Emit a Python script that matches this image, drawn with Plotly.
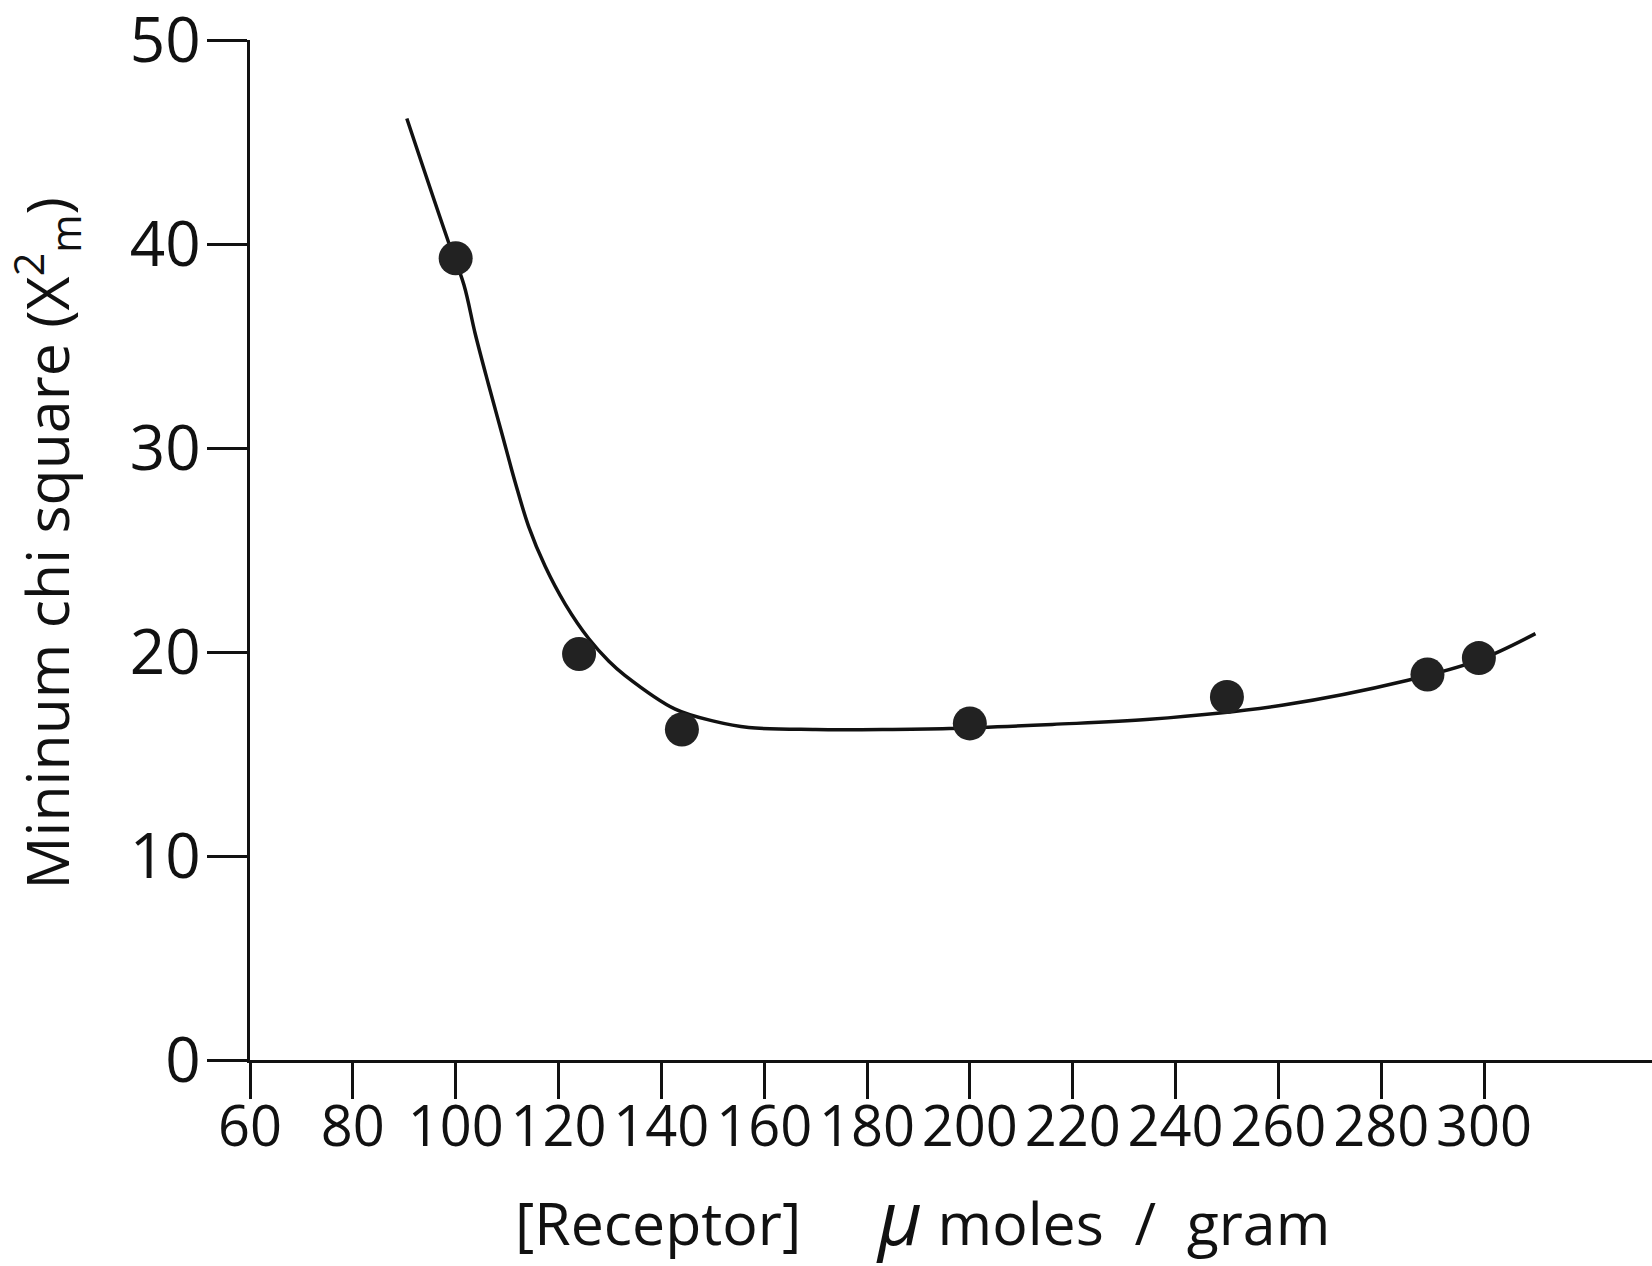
import plotly.graph_objects as go

# Measured data points
point_x = [100, 124, 144, 200, 250, 289, 299]
point_y = [39.3, 19.9, 16.2, 16.5, 17.8, 18.9, 19.7]

# Hand-drawn fitted curve
curve_x = [90.5, 98.6, 101.6, 103.8, 106.4, 109.0, 111.6, 114.2, 117.4, 121.3,
           125.9, 129.8, 132.9, 142.7, 150.4, 157.0, 170.0, 183.0, 196.0, 216.0,
           235.0, 261.0, 285.0, 299.0, 310.0]
curve_y = [46.15, 40.1, 38.0, 35.6, 33.1, 30.7, 28.3, 26.15, 24.2, 22.35,
           20.65, 19.55, 18.86, 17.2, 16.6, 16.3, 16.2, 16.2, 16.25, 16.45,
           16.7, 17.4, 18.6, 19.6, 20.9]

x_ticks = [60, 80, 100, 120, 140, 160, 180, 200, 220, 240, 260, 280, 300]
y_ticks = [0, 10, 20, 30, 40, 50]

FONT = "Open Sans"
INK = "#111111"

fig = go.Figure()
fig.add_trace(go.Scatter(
    x=curve_x, y=curve_y, mode="lines",
    line=dict(color=INK, width=3.5, shape="spline", smoothing=1.0),
    hoverinfo="skip", showlegend=False,
))
fig.add_trace(go.Scatter(
    x=point_x, y=point_y, mode="markers",
    marker=dict(size=34, color="#222222", line=dict(width=0)),
    showlegend=False,
))

fig.update_layout(
    width=1652, height=1266,
    margin=dict(l=250, r=0, t=40, b=206, pad=0, autoexpand=False),
    paper_bgcolor="white", plot_bgcolor="white",
    font=dict(family=FONT, color=INK),
    xaxis=dict(
        range=[60, 332.67], tickvals=x_ticks, ticktext=[str(v) for v in x_ticks],
        showgrid=False, zeroline=False, automargin=False,
        showline=True, linecolor=INK, linewidth=3,
        ticks="outside", ticklen=36, tickwidth=3, tickcolor=INK,
        tickfont=dict(family=FONT, size=56, color=INK),
        ticklabelstandoff=-20, ticklabeloverflow="allow",
    ),
    yaxis=dict(
        range=[0, 50], tickvals=y_ticks, ticktext=[str(v) for v in y_ticks],
        showgrid=False, zeroline=False, automargin=False,
        showline=True, linecolor=INK, linewidth=3,
        ticks="outside", ticklen=40, tickwidth=3, tickcolor=INK,
        tickfont=dict(family=FONT, size=62, color=INK),
        ticklabelstandoff=-6, ticklabeloverflow="allow",
    ),
    annotations=[
        dict(text="Mininum chi square (X<sup>2</sup><sub>m</sub>)",
             xref="paper", yref="paper", x=-0.145, y=0.507,
             xanchor="center", yanchor="middle", textangle=-90,
             showarrow=False, font=dict(family=FONT, size=59, color=INK)),
        dict(text="[Receptor]&nbsp;&nbsp;&nbsp;&nbsp;&nbsp;<i><span style='font-size:76px'>μ</span></i>&nbsp;moles&nbsp;&nbsp;/&nbsp;&nbsp;gram",
             xref="paper", yref="paper", x=0.48, y=-0.152,
             xanchor="center", yanchor="middle",
             showarrow=False, font=dict(family=FONT, size=59, color=INK)),
    ],
)

fig.write_html("out.html")
